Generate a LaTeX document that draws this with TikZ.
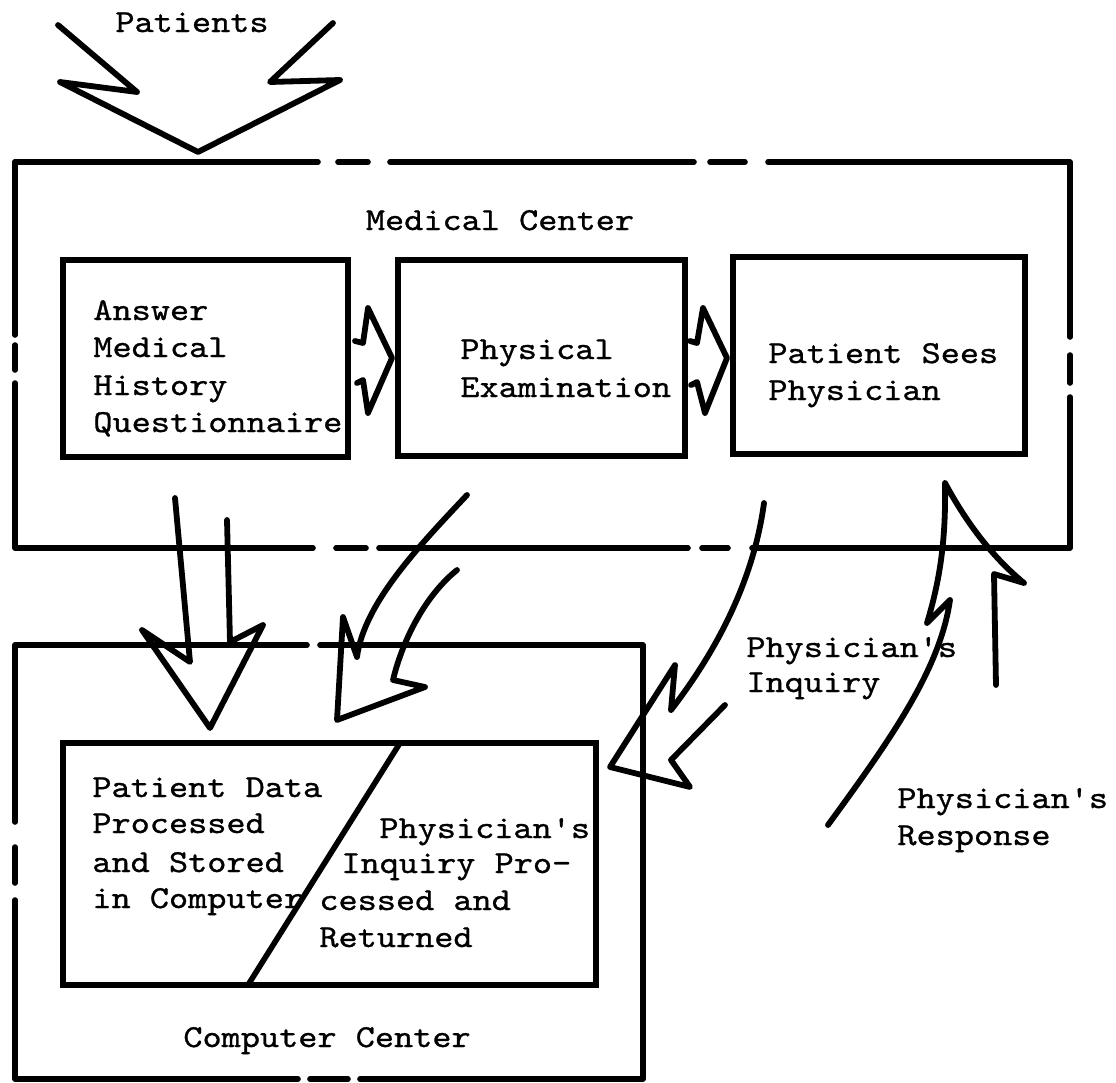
\documentclass[tikz,border=0pt]{standalone}
\usepackage{fontspec}
\setmonofont[FakeStretch=1.14,FakeBold=0.9]{lmmono10-regular.otf}
\newcommand\dgfont{\ttfamily\fontsize{16}{19}\selectfont}
\begin{document}
\begin{tikzpicture}[x=0.5pt,y=-0.5pt,
  ln/.style={line width=2.8pt,line cap=round,line join=round},
  arw/.style={line width=2.9pt,line cap=round,line join=round},
  box/.style={draw,line width=2.8pt,rectangle,inner sep=0pt},
  lbl/.style={font=\dgfont,inner sep=0pt,anchor=base west},
  clbl/.style={font=\dgfont,inner sep=0pt,anchor=base}]
\useasboundingbox (0,0) rectangle (1116,1083);
\fill[white] (0,0) rectangle (1116,1083);

% ---------- Medical Center outer (dashed) box ----------
\draw[ln] (15,162)--(318,162) (338,162)--(368,162) (390,162)--(694,162)
          (710,162)--(745,162) (768,162)--(1070,162)--(1070,337);
\draw[ln] (1070,355)--(1070,383) (1070,397)--(1070,548)--(752,548)
          (702,548)--(728,548) (688,548)--(379,548) (336,548)--(366,548)
          (313,548)--(15,548)--(15,383) (15,345)--(15,370) (15,335)--(15,162);
\node[clbl] (mc) at (500,230) {Medical Center};

% ---------- inner boxes ----------
\node[box,minimum width=142.5pt,minimum height=98.5pt] (b1) at (205.5,358.5) {};
\node[box,minimum width=143.5pt,minimum height=98pt] (b2) at (541.5,358) {};
\node[box,minimum width=146pt,minimum height=98.5pt] (b3) at (879,355.5) {};

\node[lbl] (t1a) at (93,320) {Answer};
\node[lbl] (t1b) at (93,357) {Medical};
\node[lbl] (t1c) at (93,395) {History};
\node[lbl] (t1d) at (93,432) {Questionnaire};
\node[lbl] (t2a) at (460,359) {Physical};
\node[lbl] (t2b) at (460,397) {Examination};
\node[lbl] (t3a) at (768,363) {Patient Sees};
\node[lbl] (t3b) at (768,400) {Physician};

% ---------- zigzag arrows between boxes ----------
\draw[arw] (355,341)--(363,343)--(368,308)--(392,358)--(368,413)--(363,380)--(357,383);
\draw[arw] (690,341)--(697,343)--(703,308)--(727,358)--(705,413)--(697,382)--(691,385);

% ---------- Patients arrow ----------
\node[clbl] (pat) at (192,32) {Patients};
\draw[arw] (58,25)--(137,92)--(60,82)--(198,152)--(340,80)--(270,82)--(333,23);

% ---------- Computer Center outer (dashed) box ----------
\draw[ln] (15,645)--(307,645) (320,645)--(643,645)--(643,1079)--(360,1079)
          (310,1079)--(348,1079) (298,1079)--(15,1079)--(15,900)
          (15,847)--(15,883) (15,822)--(15,645);
\node[lbl] (cc) at (183,1047) {Computer Center};

% ---------- computer inner box ----------
\node[box,minimum width=266.5pt,minimum height=121pt] (cb) at (329.5,864) {};
\coordinate (dtop) at (400,743);
\coordinate (dbot) at (248,985);
\draw[ln] (dtop)--(dbot);
\node[lbl] (c1a) at (92,797) {Patient Data};
\node[lbl] (c1b) at (92,833) {Processed};
\node[lbl] (c1c) at (92,872) {and Stored};
\node[lbl] (c1d) at (92,908) {in Computer};
\node[lbl] (c2a) at (379,838) {Physician's};
\node[lbl] (c2b) at (341,873) {Inquiry Pro-};
\node[lbl] (c2c) at (319,910) {cessed and};
\node[lbl] (c2d) at (319,947) {Returned};

% ---------- arrow A: questionnaire -> computer ----------
\draw[arw] (175,498)--(190,662)--(142,630)--(210,728)--(263,625)--(230,642)--(227,520);

% ---------- arrow B: examination -> computer ----------
\draw[arw] (467,495) .. controls (420,545) and (364,603) .. (357,657)
  --(343,617)--(337,720)--(425,687)--(393,680)
  .. controls (400,650) and (420,600) .. (457,570);

% ---------- arrow C: physician's inquiry ----------
\draw[arw] (764,503) .. controls (755,570) and (725,640) .. (671,710)
  --(675,665)--(610,767)--(690,787)--(671,760)--(725,705);
\node[lbl] (piq1) at (746,657) {Physician's};
\node[lbl] (piq2) at (746,692) {Inquiry};

% ---------- arrow D: physician's response ----------
\draw[arw] (828,825) .. controls (890,740) and (940,670) .. (950,600)
  --(927,623) .. controls (940,580) and (946,540) .. (945,483)
  .. controls (965,520) and (990,555) .. (1024,583)
  --(994,574)--(996,685);
\node[lbl] (prs1) at (897,808) {Physician's};
\node[lbl] (prs2) at (897,845) {Response};
\end{tikzpicture}
\end{document}
